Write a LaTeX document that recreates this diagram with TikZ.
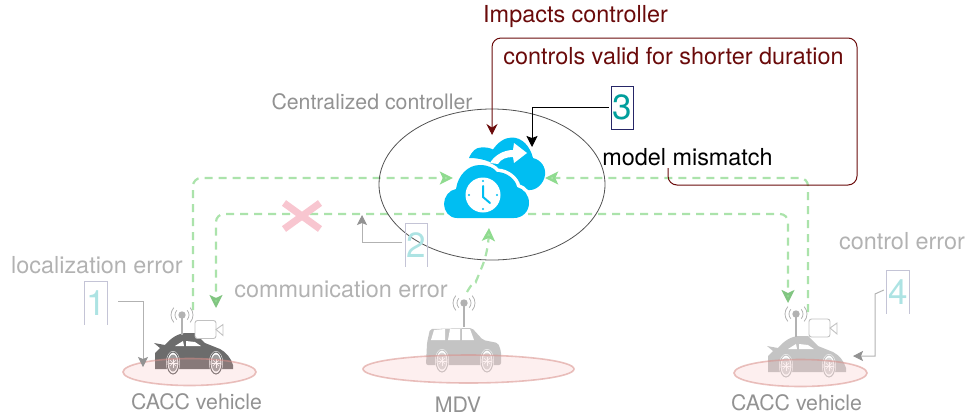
\documentclass[tikz,border=0pt]{standalone}
\usepackage{fontspec}
\setmainfont{TeX Gyre Heros}
\usetikzlibrary{arrows.meta}
\definecolor{cloudblue}{HTML}{00BEF2}
\definecolor{greendash}{HTML}{ABE3AB}
\definecolor{dashtip}{HTML}{8FDB8F}
\definecolor{darkred}{HTML}{6A0A0A}
\definecolor{lightgrey}{HTML}{B2B2B2}
\definecolor{midgrey}{HTML}{929292}
\definecolor{teal3}{HTML}{009E9C}
\definecolor{teal1}{HTML}{ADE3E3}
\definecolor{boxedge}{HTML}{C4C4D6}
\definecolor{cardark}{HTML}{6C6C6C}
\definecolor{carlight}{HTML}{C4C4C4}
\definecolor{crosspink}{HTML}{F8C6D0}
\definecolor{ringedge}{HTML}{D88F8A}
\definecolor{ringfill}{HTML}{F4B0B0}
\tikzset{
  lbl/.style={inner sep=0pt,font=\fontsize{23.4}{28}\selectfont},
  lblb/.style={inner sep=0pt,font=\fontsize{21.3}{26}\selectfont},
  numbox/.style={minimum width=22pt,minimum height=43pt,inner sep=0pt,font=\fontsize{35}{38}\selectfont,text=teal1},
  greenline/.style={draw=greendash,line width=2.2pt,dash pattern=on 8pt off 6pt,rounded corners=8pt},
  tipa/.style={-{Stealth[inset=3pt,length=13pt,width=13pt,fill=greendash,color=dashtip]}},
  tipb/.style={-{Stealth[inset=3pt,length=13pt,width=13pt,fill=dashtip,color=dashtip!90!black]}},
  greyarrow/.style={draw=lightgrey,line width=1pt,-{Stealth[inset=2pt,length=10pt,width=10pt,color=midgrey]}},
  pics/wheel/.style={code={
    \fill[white] (0,0) ellipse[x radius=7,y radius=12];
    \draw[#1,line width=1pt] (0,0) ellipse[x radius=6,y radius=11];
    \fill[#1!65!white] (0,0) ellipse[x radius=4.5,y radius=8.5];
    \foreach \a in {0,45,...,315}{\draw[white,line width=.5pt] (0,0) -- (\a:{4.5});}
  }},
  pics/sportscar/.style={code={
    \fill[#1] (0,-29) -- (11,-27) .. controls (17,-34) and (24,-39) .. (33,-39)
       -- (41,-39) -- (51,-29) -- (66,-23) .. controls (72,-20) and (77,-14) .. (79,-7)
       -- (79,-3) -- (1,-3) -- (1,-19) -- (6,-24) -- cycle;
    \fill[white] (21,-26) -- (29,-31) -- (30,-26) -- cycle;
    \fill[white] (32,-31) -- (41,-30) -- (47,-26) -- (32,-26) -- cycle;
    \pic at (19,-9) {wheel=#1};
    \pic at (62,-9) {wheel=#1};
  }},
  pics/suv/.style={code={
    \fill[#1,rounded corners=2pt] (1,-30) -- (4,-44) -- (46,-45) -- (57,-33) -- (72,-30) -- (75,-22) -- (75,-8) -- (0,-8) -- cycle;
    \fill[white] (5,-33) -- (8,-43) -- (19,-44) -- (19,-33) -- cycle;
    \fill[white] (22,-33) -- (24,-44) -- (34,-44) -- (34,-33) -- cycle;
    \fill[white] (36,-44) -- (44,-44) -- (48,-33) -- (36,-33) -- cycle;
    \pic at (16,-12) {wheel=#1};
    \pic at (61,-12) {wheel=#1};
  }},
  pics/antenna/.style={code={
    \draw[lightgrey,line width=1.4pt] (0,0) -- (0,#1);
    \fill[lightgrey] (0,0) circle[radius=3.7];
    \foreach \r in {7,11}{
      \draw[lightgrey,line width=.8pt] (-42:\r) arc[start angle=-42,end angle=42,radius=\r];
      \draw[lightgrey,line width=.8pt] (138:\r) arc[start angle=138,end angle=222,radius=\r];
    }
  }},
  pics/camera/.style={code={
    \draw[lightgrey!80!white,line width=.9pt,fill=white,rounded corners=2.5pt] (0,0) rectangle (21,18);
    \draw[lightgrey!80!white,line width=.9pt,fill=white] (21,9) -- (28,4) -- (28,15) -- cycle;
  }},
  carring/.style={draw=ringedge,draw opacity=.55,line width=1.6pt,fill=ringfill,fill opacity=.2},
}
\def\frontcloud{(457,218) .. controls (449,218) and (444,211) .. (444,204)
  .. controls (444,197) and (449,190) .. (456,189)
  .. controls (458,175) and (468,165) .. (480,165)
  .. controls (488,165) and (494,168) .. (497,172)
  .. controls (507,172) and (516,180) .. (517,187)
  .. controls (524,189) and (529,195) .. (529,203)
  .. controls (529,212) and (522,218) .. (514,218) -- cycle}
\begin{document}
\begin{tikzpicture}[x=1pt,y=-1pt]
\useasboundingbox (0,0) rectangle (968,416);

% cars
\pic at (154,372) {sportscar=cardark};
\pic at (767,375) {sportscar=carlight};
\pic at (426,373) {suv=carlight};
\pic at (182,315) {antenna=20};
\pic at (796,314) {antenna=23};
\pic at (464,303) {antenna=24};
\pic at (195,320.5) {camera};
\pic at (809,319) {camera};
\path[carring] (189.5,372) ellipse[x radius=66.5,y radius=13.5];
\path[carring] (468.5,369) ellipse[x radius=105.5,y radius=14];
\path[carring] (800.5,373) ellipse[x radius=66.5,y radius=13.5];

% rear cloud
\fill[cloudblue] (469,158) .. controls (472,151) and (476,147.5) .. (481,147.5)
  .. controls (486,147) and (490,148) .. (493,149.5)
  .. controls (498,142) and (505,137.5) .. (512,137.5)
  .. controls (522,137.5) and (530,146) .. (533,158)
  .. controls (541,160) and (546,167) .. (545,175)
  .. controls (544,183) and (537,190) .. (530,190)
  -- (495,190) -- (490,162) .. controls (483,159) and (476,158) .. (469,158) -- cycle;

% named end points
\node[minimum width=92pt,minimum height=40pt,inner sep=0pt] (cloud) at (499,178) {};
\coordinate (cloudbottom) at (489,228);
\coordinate (midtop) at (467,292);
\coordinate (leftup) at (193,310);
\coordinate (rightup) at (808,312);
\coordinate (leftdown) at (216,308);
\coordinate (rightdown) at (788,303);
\coordinate (crossbar) at (500,214);

% green links
\draw[greenline,tipa] (leftup) |- (cloud.west);
\draw[greenline,tipa] (rightup) |- (cloud.east);
\draw[greenline,tipb] (crossbar) -| (leftdown);
\draw[greenline,tipb] (crossbar) -| (rightdown);
\draw[greenline,tipa] (midtop) .. controls (472,283) and (477,279) .. (479,274) .. controls (484,262) and (488,250) .. (cloudbottom);

% white gap, front cloud, arrow and clock
\begin{scope}
\clip (470,150) rectangle (550,198);
\draw[white,line width=7pt,fill=white] \frontcloud;
\end{scope}
\fill[cloudblue] \frontcloud;
\fill[white] (490,163) .. controls (494,156) and (503,150) .. (513,150) -- (514,143) -- (527,153) -- (514,163)
  -- (513,157) .. controls (506,157) and (501,159) .. (498,164) -- cycle;
\fill[white] (483,195) circle[radius=17.5];
\foreach \a in {0,90,180,270}{\fill[cloudblue] (483,195) ++(\a:14) circle[radius=1.1];}
\draw[cloudblue,line width=2pt,line cap=round] (483,186) -- (483,197) -- (490,203);

% controller ellipse
\draw[black!68,line width=.8pt] (492,184.5) ellipse[x radius=113,y radius=75.5];

% red cross
\draw[crosspink,line width=7pt] (284,203) -- (320,229);
\draw[crosspink,line width=7pt] (320,203) -- (284,229);

% number boxes
\node[numbox] (box1) at (96,303) {1};
\node[numbox] (box2) at (416.5,245.5) {2};
\node[numbox,text=teal3,draw=black!70!blue!85!white,line width=.8pt] (box3) at (622,107.5) {3};
\node[numbox] (box4) at (898,292) {4};
\draw[boxedge,line width=.9pt] (box1.south west) |- (box1.north east) -- (box1.south east);
\draw[boxedge,line width=.9pt] (box2.south west) |- (box2.north east) -- (box2.south east);
\draw[boxedge,line width=.9pt] (box4.south west) |- (box4.north east) -- (box4.south east);

% labels
\node[lblb,text=midgrey] (central) at (372,102) {Centralized controller};
\node[lbl,text=darkred] (impact) at (575.5,17) {Impacts controller};
\node[lbl,text=darkred] (valid) at (673.5,56) {controls valid for shorter duration};
\node[lbl] (mismatch) at (687.5,157) {model mismatch};
\node[lbl,text=lightgrey] (loc) at (97,265) {localization error};
\node[lbl,text=lightgrey] (comm) at (341,289) {communication error};
\node[lbl,text=lightgrey] (ctrl) at (902,241) {control error};
\node[lblb,text=midgrey] (cacc1) at (196.5,402) {CACC vehicle};
\node[lblb,text=midgrey] (mdv) at (458,405) {MDV};
\node[lblb,text=midgrey] (cacc2) at (796.5,403) {CACC vehicle};

% pointer end points
\coordinate (carLtarget) at (143,367);
\coordinate (crossbartarget) at (362,215);
\coordinate (cloudtop3) at (532,147);
\coordinate (carRtarget) at (853,356);
\coordinate (cloudtopred) at (492,135);
\coordinate (redstart) at (668,168);
\coordinate (redbottom) at (857,185);
\coordinate (redtop) at (492,38);
\coordinate (fourbend) at (875,294);

% pointers
\draw[greyarrow] ([xshift=11pt,yshift=2pt]box1.east) -| (carLtarget);
\draw[greyarrow] ([xshift=-3pt,yshift=3pt]box2.west) -| (crossbartarget);
\draw[line width=1pt,-{Stealth[inset=2pt,length=11pt,width=11pt]}] ([xshift=-2pt,yshift=.5pt]box3.west) -| (cloudtop3);
\draw[greyarrow] ([xshift=-3pt,yshift=2pt]box4.west) -- (fourbend) |- (carRtarget);
\draw[darkred,line width=1pt,rounded corners=9pt,-{Stealth[length=11pt,width=11pt]}]
  (redstart) |- (redbottom) |- (redtop) -- (cloudtopred);
\end{tikzpicture}
\end{document}
